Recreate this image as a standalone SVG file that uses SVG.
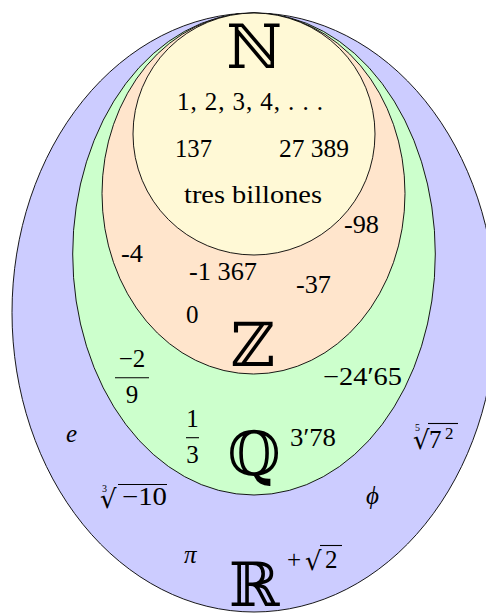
<svg xmlns="http://www.w3.org/2000/svg" width="486" height="614" viewBox="0 0 486 614">
<style>
.set{stroke:#000;stroke-width:0.9}
.t{font-family:'Liberation Serif',serif;font-size:25px;fill:#000}
.i{font-style:italic}
.s{font-family:'Liberation Serif',serif;fill:#000}
.bb{font-family:'DejaVu Serif','DejaVu Sans',serif;font-size:61px;fill:#000;text-anchor:middle}
.m{text-anchor:middle}
.rad{font-family:'DejaVu Sans','DejaVu Serif',sans-serif;fill:#000}
.bar{stroke:#000;stroke-width:1.1}
</style>
<rect width="486" height="614" fill="#fff"/>
<g id="R">
<ellipse class="set" cx="254" cy="312.5" rx="242" ry="299.5" fill="#ccccff"/>
</g>
<g id="Q">
<ellipse class="set" cx="254" cy="254" rx="181.3" ry="241" fill="#ccffcc"/>
</g>
<g id="Z">
<ellipse class="set" cx="253.5" cy="193.5" rx="151.5" ry="180.5" fill="#ffe5cc"/>
</g>
<g id="N">
<circle class="set" cx="254" cy="134" r="121" fill="#fff9d6"/>
</g>
<g id="N-labels">
<text class="bb" x="254.5" y="68">ℕ</text>
<text class="t" x="177" y="110" textLength="146" lengthAdjust="spacing">1, 2, 3, 4, . . .</text>
<text class="t" x="175" y="157" textLength="37" lengthAdjust="spacingAndGlyphs">137</text>
<text class="t" x="279" y="157" textLength="70" lengthAdjust="spacingAndGlyphs">27 389</text>
<text class="t" x="184" y="203" textLength="138" lengthAdjust="spacingAndGlyphs">tres billones</text>
</g>
<g id="Z-labels">
<text class="bb" x="253" y="366">ℤ</text>
<text class="t" x="344" y="233" textLength="35" lengthAdjust="spacingAndGlyphs">-98</text>
<text class="t" x="121" y="262" textLength="22" lengthAdjust="spacingAndGlyphs">-4</text>
<text class="t" x="189" y="280" textLength="68" lengthAdjust="spacingAndGlyphs">-1 367</text>
<text class="t" x="296" y="293" textLength="35" lengthAdjust="spacingAndGlyphs">-37</text>
<text class="t" x="186" y="323">0</text>
</g>
<g id="Q-labels">
<text class="bb" x="254" y="475">ℚ</text>
<text class="t m" x="132" y="367">−2</text>
<line class="bar" x1="115" y1="377.7" x2="149" y2="377.7"/>
<text class="t m" x="132" y="403">9</text>
<text class="t m" x="192.5" y="427">1</text>
<line class="bar" x1="186" y1="437.7" x2="199" y2="437.7"/>
<text class="t m" x="192.5" y="463">3</text>
<text class="t" x="323" y="385" textLength="79" lengthAdjust="spacingAndGlyphs">−24′65</text>
<text class="t" x="290" y="446" textLength="46" lengthAdjust="spacingAndGlyphs">3′78</text>
</g>
<g id="R-labels">
<text class="bb" x="254" y="606" font-size="59">ℝ</text>
<text class="t i" x="66" y="442">e</text>
<text class="s" x="415" y="431" font-size="10">5</text>
<text class="rad" x="413" y="449" font-size="26">√</text>
<line class="bar" x1="428" y1="423.5" x2="458" y2="423.5"/>
<text class="t" x="429" y="448">7</text>
<text class="s" x="445" y="439" font-size="17">2</text>
<text class="s" x="102" y="492" font-size="10">3</text>
<text class="rad" x="100" y="508" font-size="26">√</text>
<line class="bar" x1="118" y1="484.5" x2="167" y2="484.5"/>
<text class="t" x="122" y="505" textLength="45" lengthAdjust="spacingAndGlyphs">−10</text>
<text class="t i" x="366" y="504">ϕ</text>
<text class="t i" x="184" y="563">π</text>
<text class="t" x="287" y="568">+</text>
<text class="rad" x="305" y="570" font-size="26">√</text>
<line class="bar" x1="320" y1="545.5" x2="342" y2="545.5"/>
<text class="t" x="325" y="568">2</text>
</g>
</svg>
